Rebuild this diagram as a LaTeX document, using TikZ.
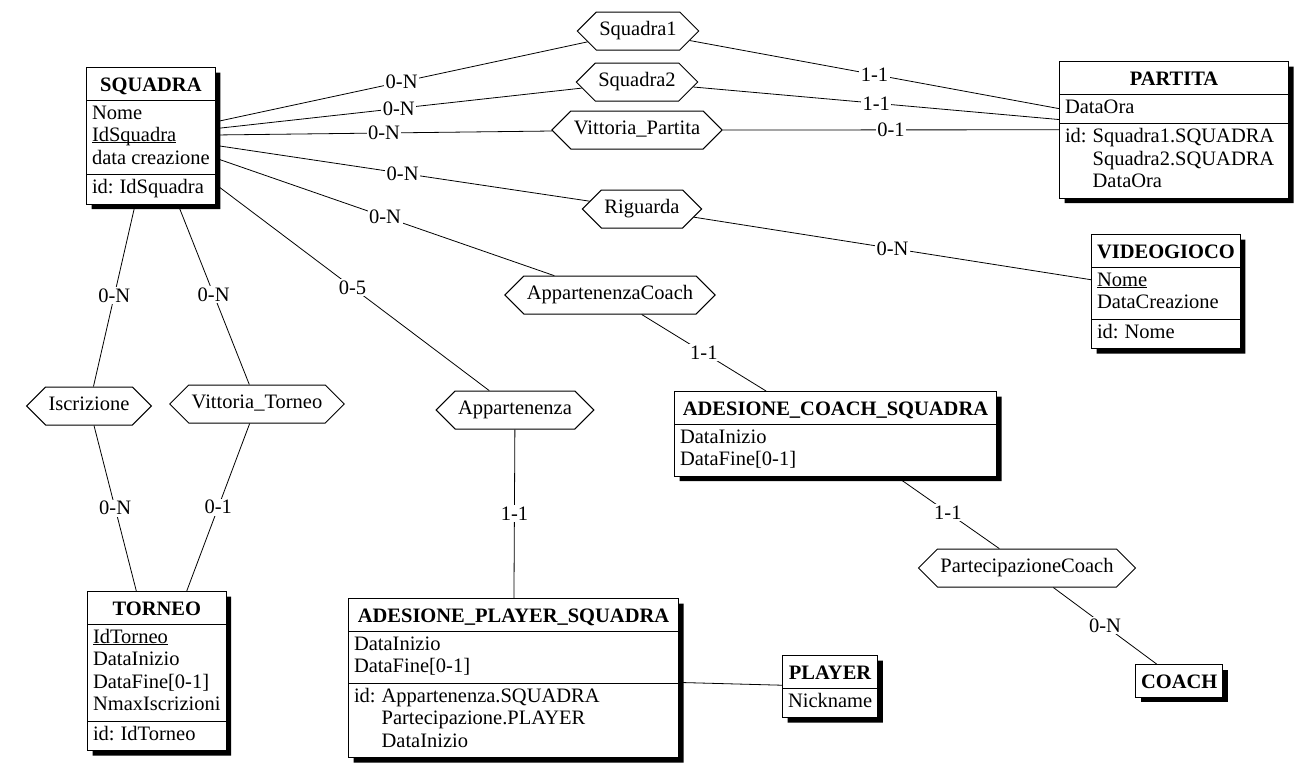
\documentclass[tikz,border=0pt]{standalone}
\usepackage{fontspec}
\setmainfont{Liberation Serif}
\usetikzlibrary{shapes.multipart,shapes.symbols,shadows}

\newcommand\keyattr[1]{\setbox0=\hbox{#1}\rlap{\rule[-1.6pt]{\wd0}{0.9pt}}\box0}
\newcommand\etitle[1]{\rule[-5.5pt]{0pt}{25.5pt}\textbf{#1}}
\newcommand\attrs[1]{\begin{tabular}{@{}l@{}}#1\end{tabular}}
\newcommand\ids[1]{\begin{tabular}{@{}l@{\hspace{6pt}}l@{}}id:&#1\end{tabular}}

\begin{document}
\begin{tikzpicture}[x=1pt, y=-1pt, font=\fontsize{20.5}{22.5}\selectfont, line width=0.8pt]
    \tikzstyle{entity} = [rectangle split, rectangle split parts=#1, draw, fill=white,
    line width=1pt, anchor=north west, inner xsep=5.5pt, inner ysep=3pt,
    rectangle split part align={center,left,left},
    drop shadow={shadow xshift=5pt, shadow yshift=-5pt, fill=black, opacity=1}]
    \tikzstyle{rel} = [signal, signal to=east and west, draw, fill=white, line width=1pt,
    inner xsep=3pt, inner ysep=7.75pt, execute at begin node=\strut]
    \tikzstyle{card} = [fill=white, inner sep=1.5pt]

    \useasboundingbox (0,0) rectangle (1306,766);

    % entities
    \node [entity=3] (squadra) at (86,67) {\etitle{SQUADRA}
      \nodepart{two}\attrs{Nome\\ \keyattr{IdSquadra}\\ data creazione}
      \nodepart{three}\ids{IdSquadra}};
    \node [entity=3, minimum width=229pt] (partita) at (1059,61) {\etitle{PARTITA}
      \nodepart{two}\attrs{DataOra}
      \nodepart{three}\ids{Squadra1.SQUADRA\\ &Squadra2.SQUADRA\\ &DataOra}};
    \node [entity=3] (videogioco) at (1091,234) {\etitle{VIDEOGIOCO}
      \nodepart{two}\attrs{\keyattr{Nome}\\ DataCreazione}
      \nodepart{three}\ids{Nome}};
    \node [entity=3] (torneo) at (87,591) {\etitle{TORNEO}
      \nodepart{two}\attrs{\keyattr{IdTorneo}\\ DataInizio\\ DataFine[0-1]\\ NmaxIscrizioni}
      \nodepart{three}\ids{IdTorneo}};
    \node [entity=3, minimum width=330pt] (adplayer) at (348,598) {\etitle{ADESIONE\_PLAYER\_SQUADRA}
      \nodepart{two}\attrs{DataInizio\\ DataFine[0-1]}
      \nodepart{three}\ids{Appartenenza.SQUADRA\\ &Partecipazione.PLAYER\\ &DataInizio}};
    \node [entity=2, minimum width=322pt] (adcoach) at (674,391) {\etitle{ADESIONE\_COACH\_SQUADRA}
      \nodepart{two}\attrs{DataInizio\\ DataFine[0-1]}};
    \node [entity=2] (player) at (782,655) {\etitle{PLAYER}
      \nodepart{two}\attrs{Nickname}};
    \node [entity=1] (coach) at (1135,664) {\etitle{COACH}};

    % relationships
    \node [rel] (sq1) at (638,31) {Squadra1};
    \node [rel] (sq2) at (637,82) {Squadra2};
    \node [rel] (vittp) at (637,130) {Vittoria\_Partita};
    \node [rel] (riguarda) at (642,209) {Riguarda};
    \node [rel] (appcoach) at (610,295) {AppartenenzaCoach};
    \node [rel] (iscr) at (89,406) {Iscrizione};
    \node [rel] (vittt) at (257,404) {Vittoria\_Torneo};
    \node [rel] (app) at (515,410) {Appartenenza};
    \node [rel] (partcoach) at (1027,568) {PartecipazioneCoach};

    \draw (squadra) -- node [card] {0-N} (sq1);
    \draw (sq1) -- node [card] {1-1} (partita);
    \draw (squadra) -- node [card] {0-N} (sq2);
    \draw (sq2) -- node [card] {1-1} (partita);
    \draw (squadra) -- node [card] {0-N} (vittp);
    \draw (vittp) -- node [card] {0-1} (partita);
    \draw (squadra) -- node [card] {0-N} (riguarda);
    \draw (riguarda) -- node [card] {0-N} (videogioco);
    \draw (squadra) -- node [card] {0-N} (appcoach);
    \draw (appcoach) -- node [card] {1-1} (adcoach);
    \draw (squadra) -- node [card] {0-N} (iscr);
    \draw (iscr) -- node [card] {0-N} (torneo);
    \draw (squadra) -- node [card] {0-N} (vittt);
    \draw (vittt) -- node [card] {0-1} (torneo);
    \draw (squadra) -- node [card] {0-5} (app);
    \draw (app) -- node [card] {1-1} (adplayer);
    \draw (adcoach) -- node [card] {1-1} (partcoach);
    \draw (partcoach) -- node [card] {0-N} (coach);
    \draw (adplayer) -- (player);
\end{tikzpicture}
\end{document}
